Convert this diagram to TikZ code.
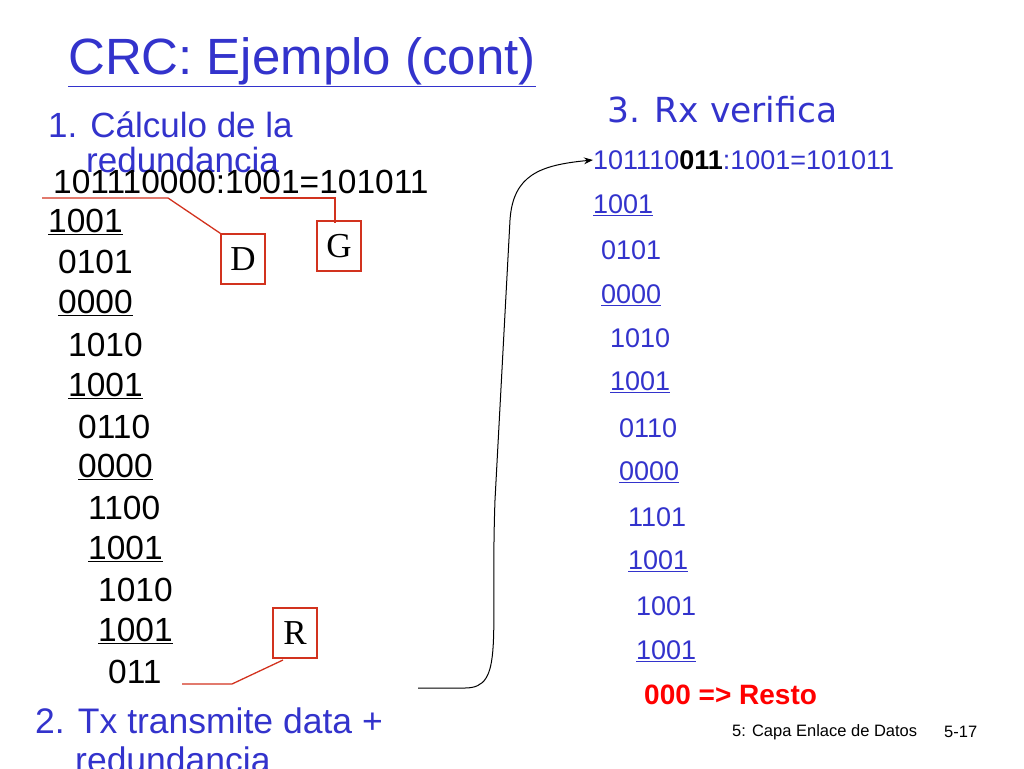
\documentclass[tikz,border=0pt]{standalone}
\usepackage{fontspec}
\setmainfont{Liberation Sans}
\newfontfamily\dvs{DejaVu Sans}
\newfontfamily\ser{Liberation Serif}
\usetikzlibrary{arrows.meta}
\definecolor{tblue}{RGB}{51,51,204}
\definecolor{lred}{RGB}{210,50,30}
\begin{document}
\begin{tikzpicture}[x=1pt,y=-1pt,
  L/.style={anchor=west,inner sep=0,font=\fontsize{33.5}{33.5}\selectfont},
  Rt/.style={anchor=west,inner sep=0,text=tblue,font=\fontsize{27}{27}\selectfont},
  lbox/.style={draw=lred,line width=1.3pt,minimum width=44pt,minimum height=50pt,font=\fontsize{35}{35}\ser\selectfont},
  rl/.style={draw=lred,line width=1.3pt}]
\useasboundingbox (0,0) rectangle (1024,768);
\node[anchor=west,inner sep=0,text=tblue,font=\fontsize{51}{51}\selectfont] (title) at (68,62) {\underline{CRC: Ejemplo (cont)}};
\node[anchor=west,inner sep=0,text=tblue,font=\fontsize{35}{35}\selectfont] (h1) at (48,125) {1. Cálculo de la};
\node[anchor=west,inner sep=0,text=tblue,font=\fontsize{35}{35}\selectfont] (h1b) at (86,160) {redundancia};
\node[anchor=west,inner sep=0,text=tblue,font=\fontsize{34.5}{34.5}\dvs\selectfont] (h3) at (607,110) {3. Rx verifica};
% left column
\node[L] (l1) at (53,182) {101110000:1001=101011};
\node[L] (l2) at (48,222) {\underline{1001}};
\node[L] (l3) at (58,262) {0101};
\node[L] (l4) at (58,303) {\underline{0000}};
\node[L] (l5) at (68,345) {1010};
\node[L] (l6) at (68,386) {\underline{1001}};
\node[L] (l7) at (78,427) {0110};
\node[L] (l8) at (78,467) {\underline{0000}};
\node[L] (l9) at (88,508) {1100};
\node[L] (l10) at (88,549) {\underline{1001}};
\node[L] (l11) at (98,590) {1010};
\node[L] (l12) at (98,631) {\underline{1001}};
\node[L] (l13) at (108,672) {011};
% right column
\node[Rt] (r1) at (593,160) {101110\textcolor{black}{\textbf{011}}:1001=101011};
\node[Rt] (r2) at (593,205) {\underline{1001}};
\node[Rt] (r3) at (601,250) {0101};
\node[Rt] (r4) at (601,295) {\underline{0000}};
\node[Rt] (r5) at (610,338) {1010};
\node[Rt] (r6) at (610,382) {\underline{1001}};
\node[Rt] (r7) at (619,428) {0110};
\node[Rt] (r8) at (619,472) {\underline{0000}};
\node[Rt] (r9) at (628,517) {1101};
\node[Rt] (r10) at (628,561) {\underline{1001}};
\node[Rt] (r11) at (636,606) {1001};
\node[Rt] (r12) at (636,651) {\underline{1001}};
\node[anchor=west,inner sep=0,text=red,font=\fontsize{28}{28}\bfseries\selectfont] (r13) at (644,695) {000 => Resto};
% boxes
\node[lbox] (D) at (243,259) {D};
\node[lbox] (G) at (339,246) {G};
\node[lbox] (R) at (295,633) {R};
\coordinate (d1) at (42,198); \coordinate (d2) at (168,198);
\draw[rl] (d1) -- (d2) -- (D.north west);
\coordinate (g1) at (260,198); \coordinate (g2) at (335,198);
\draw[rl] (g1) -- (g2) -- (335,223);
\coordinate (q1) at (182,684); \coordinate (q2) at (232,684);
\draw[rl] (q1) -- (q2) -- (283,660);
% arrow
\coordinate (a0) at (418,688);
\draw[line width=1pt,-{Stealth[length=9pt]}] (a0) -- (465,688) .. controls (505,688) and (490,640) .. (495,500) -- (510,220) .. controls (513,175) and (540,165) .. (r1.west);
% bottom
\node[anchor=west,inner sep=0,text=tblue,font=\fontsize{35.5}{35.5}\selectfont] (b1) at (35,721) {2. Tx transmite data +};
\node[anchor=west,inner sep=0,text=tblue,font=\fontsize{35.5}{35.5}\selectfont] (b2) at (75,760) {redundancia};
\node[anchor=west,inner sep=0,font=\fontsize{16.5}{16.5}\selectfont] (f1) at (732,732) {5: Capa Enlace de Datos};
\node[anchor=west,inner sep=0,font=\fontsize{16.5}{16.5}\selectfont] (f2) at (944,732) {5-17};
\end{tikzpicture}
\end{document}
